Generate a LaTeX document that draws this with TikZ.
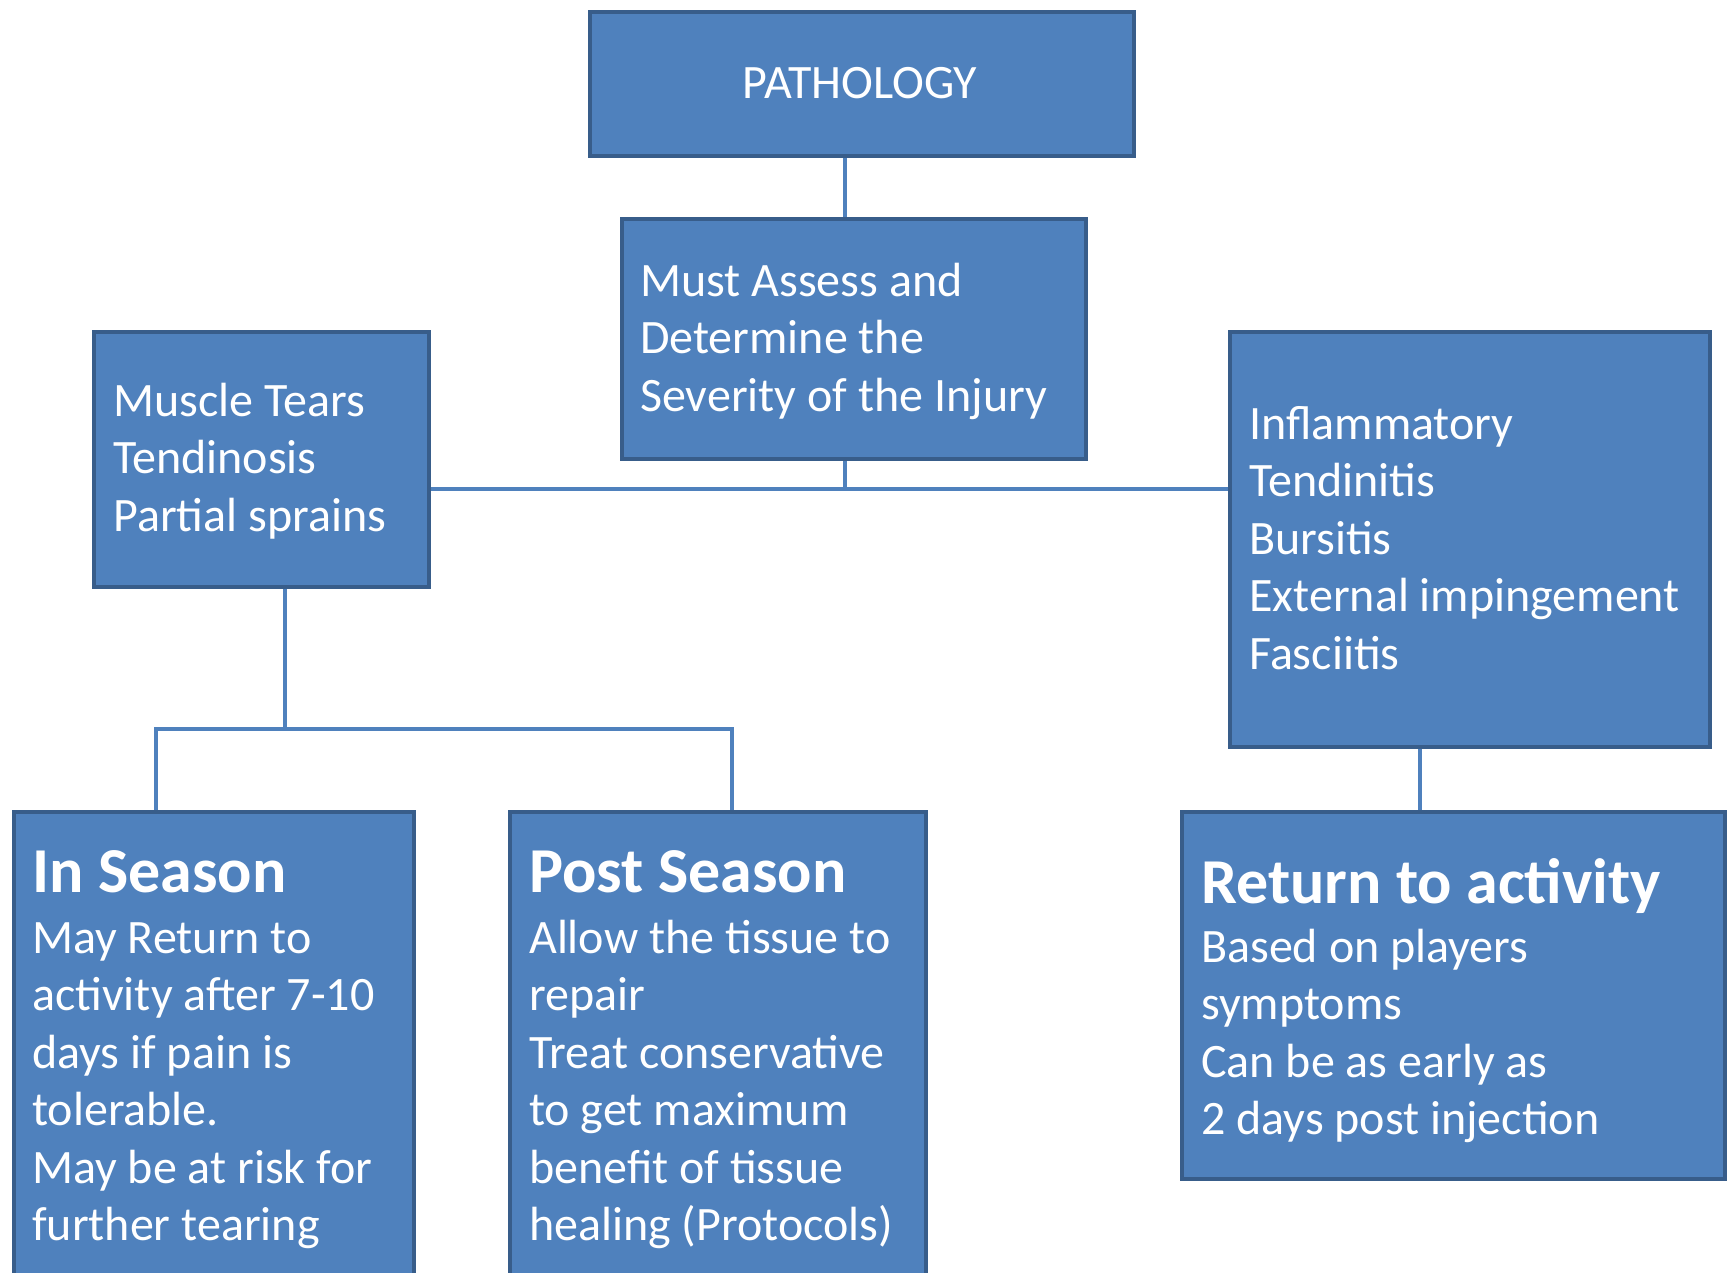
\documentclass[tikz,border=0pt]{standalone}
\usepackage{fontspec}
\setmainfont{Carlito}
\definecolor{boxfill}{HTML}{4F81BD}
\definecolor{boxline}{HTML}{385D8A}
\definecolor{conn}{HTML}{4F81BD}
\tikzset{
  box/.style={draw=boxline, fill=boxfill, line width=4pt, inner sep=0pt, anchor=north west},
  txt/.style={anchor=base west, inner sep=0pt, text=white, font=\fontsize{48}{57.5}\selectfont},
  ttl/.style={anchor=base west, inner sep=0pt, text=white, font=\fontsize{64}{72}\selectfont\bfseries},
  conline/.style={draw=conn, line width=3.5pt}
}
\newcommand{\mylines}[1]{\begin{tabular}[t]{@{}l@{}}#1\end{tabular}}
\begin{document}
\begin{tikzpicture}[x=1pt,y=-1pt]
\useasboundingbox (0,0) rectangle (1731,1272);
\clip (0,0) rectangle (1731,1272);
\fill[white] (0,0) rectangle (1731,1272);
% coordinates for connectors
\coordinate (c1) at (845,489);
\coordinate (c2) at (285,729);
\coordinate (c3) at (156,729);
\coordinate (c4) at (732,729);
\coordinate (c5) at (1420,760);
% boxes
\node[box, minimum width=544pt, minimum height=144pt] (path) at (588,10) {};
\node[box, minimum width=464pt, minimum height=240pt] (assess) at (620,217) {};
\node[box, minimum width=335pt, minimum height=255pt] (muscle) at (92,330) {};
\node[box, minimum width=480pt, minimum height=415pt] (infl) at (1228,330) {};
\node[box, minimum width=400pt, minimum height=500pt] (inseason) at (12,810) {};
\node[box, minimum width=416pt, minimum height=500pt] (postseason) at (508,810) {};
\node[box, minimum width=543pt, minimum height=367pt] (ret) at (1180,810) {};
% connectors
\draw[conline] (c1 |- path.south) -- (c1 |- assess.north);
\draw[conline] (muscle.east |- c1) -- (infl.west |- c1);
\draw[conline] (c1 |- assess.south) -- (c1);
\draw[conline] (c2 |- muscle.south) -- (c2);
\draw[conline] (c3 |- inseason.north) -- (c3) -- (c4) -- (c4 |- postseason.north);
\draw[conline] (c5 |- infl.south) -- (c5 |- ret.north);
% texts
\node[inner sep=0pt, anchor=base, text=white, font=\fontsize{48}{57}\selectfont] (tpath) at (860,98) {PATHOLOGY};
\node[txt] (tassess) at (640,296) {\mylines{Must Assess and\\Determine the\\Severity of the Injury}};
\node[txt] (tmuscle) at (113,416) {\mylines{Muscle Tears\\Tendinosis\\Partial sprains}};
\node[txt] (tinfl) at (1249,439) {\mylines{Inflammatory\\Tendinitis\\Bursitis\\External impingement\\Fasciitis}};
\node[ttl] (hin) at (32,892) {In Season};
\node[txt] (tin) at (32,953) {\mylines{May Return to\\activity after 7-10\\days if pain is\\tolerable.\\May be at risk for\\further tearing}};
\node[ttl] (hpost) at (529,892) {Post Season};
\node[txt] (tpost) at (529,953) {\mylines{Allow the tissue to\\repair\\Treat conservative\\to get maximum\\benefit of tissue\\healing (Protocols)}};
\node[ttl] (hret) at (1201,903) {Return to activity};
\node[txt] (tret) at (1201,962) {\mylines{Based on players\\symptoms\\Can be as early as\\2 days post injection}};
\end{tikzpicture}
\end{document}
